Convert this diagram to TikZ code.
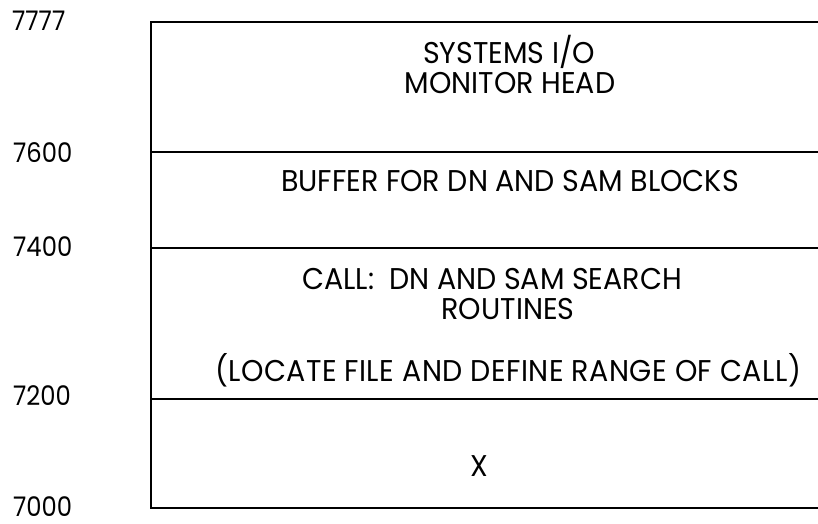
\documentclass[tikz,border=0pt]{standalone}
\usepackage{fontspec}
\setmainfont{Poppins}[FakeStretch=0.9]
\newfontfamily\bodyfont{Poppins}[FakeStretch=0.95]
\begin{document}
\begin{tikzpicture}[x=1pt,y=-1pt,
  rule/.style={line width=2.2pt,line cap=rect},
  lbl/.style={anchor=base,inner sep=0pt,font=\bodyfont\fontsize{30}{32}\selectfont},
  addr/.style={anchor=base west,inner sep=0pt,font=\fontsize{27}{29}\selectfont}]
\useasboundingbox (0,0) rectangle (818,523);
% memory map outline
\draw[rule] (818,22) -- (151,22) -- (151,508) -- (818,508);
\draw[rule] (151,152) -- (818,152);
\draw[rule] (151,248) -- (818,248);
\draw[rule] (151,399) -- (818,399);
% addresses
\node[addr] (a7777) at (12,30) {7777};
\node[addr] (a7600) at (13,162) {7600};
\node[addr] (a7400) at (13,256) {7400};
\node[addr] (a7200) at (13,405) {7200};
\node[addr] (a7000) at (13,516) {7000};
% contents
\node[lbl] (sys) at (509,63) {SYSTEMS I/O};
\node[lbl] (mon) at (510,93) {MONITOR HEAD};
\node[lbl] (buf) at (510,191) {BUFFER FOR DN AND SAM BLOCKS};
\node[lbl] (call) at (492,289) {CALL:\ \ DN AND SAM SEARCH};
\node[lbl] (rout) at (508,319) {ROUTINES};
\node[lbl] (loc) at (508,381) {\addfontfeature{LetterSpace=1.5}(LOCATE FILE AND DEFINE RANGE OF CALL)};
\node[lbl] (x) at (479,476) {X};
\end{tikzpicture}
\end{document}
